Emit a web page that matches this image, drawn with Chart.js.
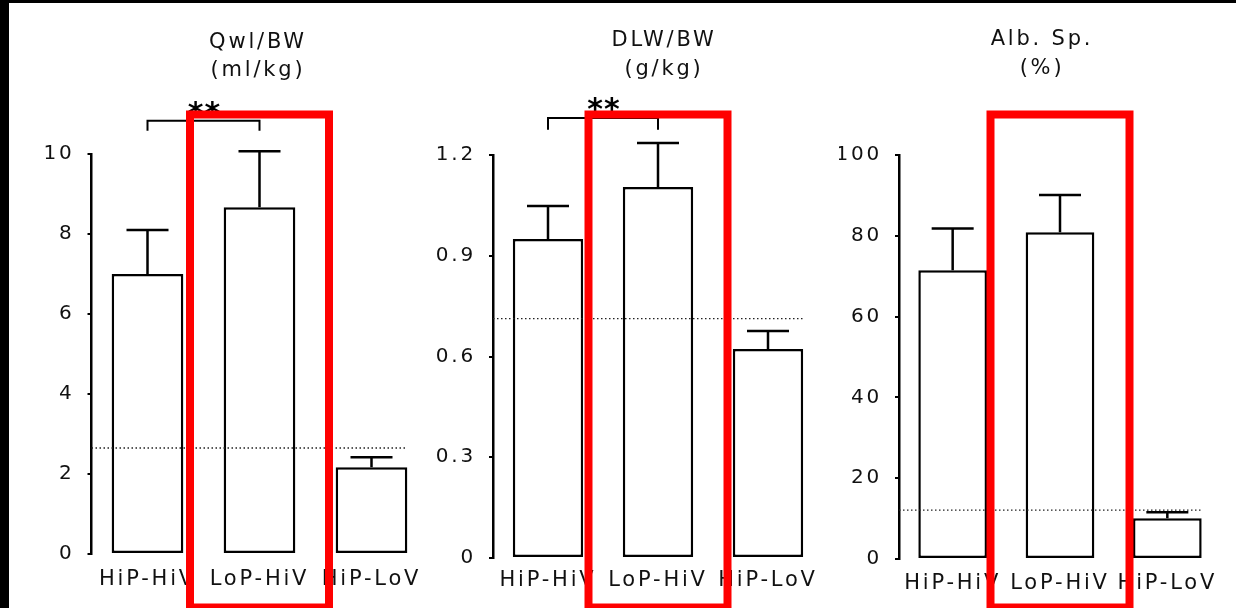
<!DOCTYPE html>
<html>
<head>
<meta charset="utf-8">
<script src="https://cdn.jsdelivr.net/npm/chart.js@4.4.1/dist/chart.umd.min.js"></script>
<style>
  html, body { margin: 0; padding: 0; background: #fff; }
  #wrap { position: relative; width: 1236px; height: 608px; overflow: hidden; background: #fff; }
  #wrap canvas { position: absolute; left: 0; top: 0; }
  .edge { position: absolute; background: #000; }
</style>
</head>
<body>
<div id="wrap">
  <canvas id="qwl" width="1236" height="608"></canvas>
  <canvas id="dlw" width="1236" height="608"></canvas>
  <canvas id="alb" width="1236" height="608"></canvas>
  <div class="edge" style="left:0;top:0;width:1236px;height:3px"></div>
  <div class="edge" style="left:0;top:0;width:9px;height:608px"></div>
</div>
<script>
const W = 1236, H = 608;
const FONT = "'DejaVu Sans', 'Liberation Sans', Arial, sans-serif";

const groups = ["HiP-HiV", "LoP-HiV", "HiP-LoV"];

// Qwl/BW (ml/kg)
const qwlMean = [7.0, 8.67, 2.17];
const qwlSem = [1.1, 1.4, 0.25];
const qwlTicks = [0, 2, 4, 6, 8, 10];
const qwlRef = 2.65;
const qwlBracket = [10.83, 10.58, 11.2]; // bar top, leg end, stars

// DLW/BW (g/kg)
const dlwMean = [0.95, 1.105, 0.622];
const dlwSem = [0.098, 0.131, 0.054];
const dlwTicks = [0, 0.3, 0.6, 0.9, 1.2];
const dlwRef = 0.713;
const dlwBracket = [1.31, 1.275, 1.358];

// Alb. Sp. (%)
const albMean = [71.5, 80.9, 10.1];
const albSem = [10.3, 9.2, 1.5];
const albTicks = [0, 20, 40, 60, 80, 100];
const albRef = 12.1;

Chart.defaults.font.family = FONT;
Chart.defaults.color = "#111";

// error bars, dotted reference line, significance bracket, red highlight box
const sketch = {
  id: "sketch",
  beforeDraw(chart) {
    chart.ctx.letterSpacing = "2.8px";
  },
  afterDatasetsDraw(chart, args, o) {
    const { ctx, chartArea } = chart;
    const y = chart.scales.y;
    const bars = chart.getDatasetMeta(0).data;
    ctx.save();

    // dotted line
    const last = bars[bars.length - 1];
    const ry = y.getPixelForValue(o.ref);
    ctx.lineWidth = 1.3;
    ctx.setLineDash([1.5, 2.5]);
    ctx.strokeStyle = "#222";
    ctx.beginPath();
    ctx.moveTo(chartArea.left, ry);
    ctx.lineTo(last.x + last.width / 2, ry);
    ctx.stroke();
    ctx.setLineDash([]);

    // error bars (upper half only)
    ctx.strokeStyle = "#000";
    ctx.lineWidth = 2.5;
    bars.forEach((bar, i) => {
      const top = y.getPixelForValue(o.mean[i] + o.sem[i]);
      ctx.beginPath();
      ctx.moveTo(bar.x, bar.y);
      ctx.lineTo(bar.x, top);
      ctx.moveTo(bar.x - 21, top);
      ctx.lineTo(bar.x + 21, top);
      ctx.stroke();
    });
    ctx.restore();
  },
  afterDraw(chart, args, o) {
    const { ctx } = chart;
    const x = chart.scales.x, y = chart.scales.y;
    ctx.save();
    if (o.bracket) {
      const x0 = x.getPixelForValue(0), x1 = x.getPixelForValue(1);
      const yt = y.getPixelForValue(o.bracket[0]);
      const yl = y.getPixelForValue(o.bracket[1]);
      ctx.strokeStyle = "#000";
      ctx.lineWidth = 2;
      ctx.beginPath();
      ctx.moveTo(x0, yl);
      ctx.lineTo(x0, yt);
      ctx.lineTo(x1, yt);
      ctx.lineTo(x1, yl);
      ctx.stroke();
      ctx.fillStyle = "#000";
      ctx.font = "bold 30px " + FONT;
      ctx.letterSpacing = "1px";
      ctx.textAlign = "center";
      ctx.textBaseline = "alphabetic";
      ctx.fillText("**", (x0 + x1) / 2 + 1, y.getPixelForValue(o.bracket[2]) + 17);
    }
    // red box round LoP-HiV
    const cx = x.getPixelForValue(1);
    ctx.strokeStyle = "#ff0000";
    ctx.lineWidth = 8;
    ctx.strokeRect(cx - 69.5, 114.5, 139, 493);
    ctx.restore();
  }
};

function makePanel(id, p) {
  // y-axis box wide enough for its labels; a blank right axis keeps the title centred where it should be
  const yw = 60;
  const padLeft = p.chartLeft - yw;
  const rw = Math.max(0, 2 * p.titleX - padLeft - p.chartRight);
  const padRight = W - p.chartRight - rw;
  const lh = 28.5;
  const tTop = p.titleY - lh / 2;
  const tBottom = p.top - tTop - 2 * lh;

  return new Chart(document.getElementById(id), {
    type: "bar",
    data: {
      labels: groups,
      datasets: [{
        data: p.mean,
        backgroundColor: "#fff",
        borderColor: "#000",
        borderWidth: 2.5,
        borderSkipped: false,
        barPercentage: 0.64,
        categoryPercentage: 1
      }]
    },
    options: {
      responsive: false,
      animation: false,
      events: [],
      layout: { padding: { left: padLeft, right: padRight, top: 0, bottom: 0 } },
      scales: {
        x: {
          type: "category",
          offset: true,
          grid: { display: false, drawTicks: false },
          border: { display: false },
          ticks: { font: { size: 21 }, padding: p.labelY - p.bottom - 12.6, maxRotation: 0, autoSkip: false },
          afterFit: s => { s.height = H - p.bottom; }
        },
        y: {
          type: "linear",
          min: 0,
          max: p.ticks[p.ticks.length - 1],
          afterBuildTicks: s => { s.ticks = p.ticks.map(v => ({ value: v })); },
          grid: { drawOnChartArea: false, drawTicks: true, tickLength: 4, color: "#000", lineWidth: 2 },
          border: { display: true, color: "#000", width: 2.5 },
          ticks: { font: { size: 20 }, padding: 13, callback: v => String(v) },
          afterFit: s => { s.width = yw; }
        },
        yr: {
          type: "linear",
          position: "right",
          grid: { display: false },
          border: { display: false },
          ticks: { display: false },
          afterFit: s => { s.width = rw; }
        }
      },
      plugins: {
        legend: { display: false },
        tooltip: { enabled: false },
        title: {
          display: true,
          text: p.title,
          color: "#111",
          font: { size: 21, weight: "normal", lineHeight: lh / 21 },
          padding: { top: tTop, bottom: tBottom }
        },
        sketch: { mean: p.mean, sem: p.sem, ref: p.ref, bracket: p.bracket }
      }
    },
    plugins: [sketch]
  });
}

makePanel("qwl", {
  title: ["Qwl/BW", "(ml/kg)"], mean: qwlMean, sem: qwlSem, ticks: qwlTicks, ref: qwlRef, bracket: qwlBracket,
  chartLeft: 91.5, chartRight: 427.5, top: 154, bottom: 554, titleX: 258, titleY: 42.5, labelY: 580
});
makePanel("dlw", {
  title: ["DLW/BW", "(g/kg)"], mean: dlwMean, sem: dlwSem, ticks: dlwTicks, ref: dlwRef, bracket: dlwBracket,
  chartLeft: 493, chartRight: 823, top: 155, bottom: 558, titleX: 664, titleY: 41, labelY: 581
});
makePanel("alb", {
  title: ["Alb. Sp.", "(%)"], mean: albMean, sem: albSem, ticks: albTicks, ref: albRef, bracket: null,
  chartLeft: 899, chartRight: 1221, top: 155, bottom: 559, titleX: 1042, titleY: 40, labelY: 584
});
</script>
</body>
</html>
